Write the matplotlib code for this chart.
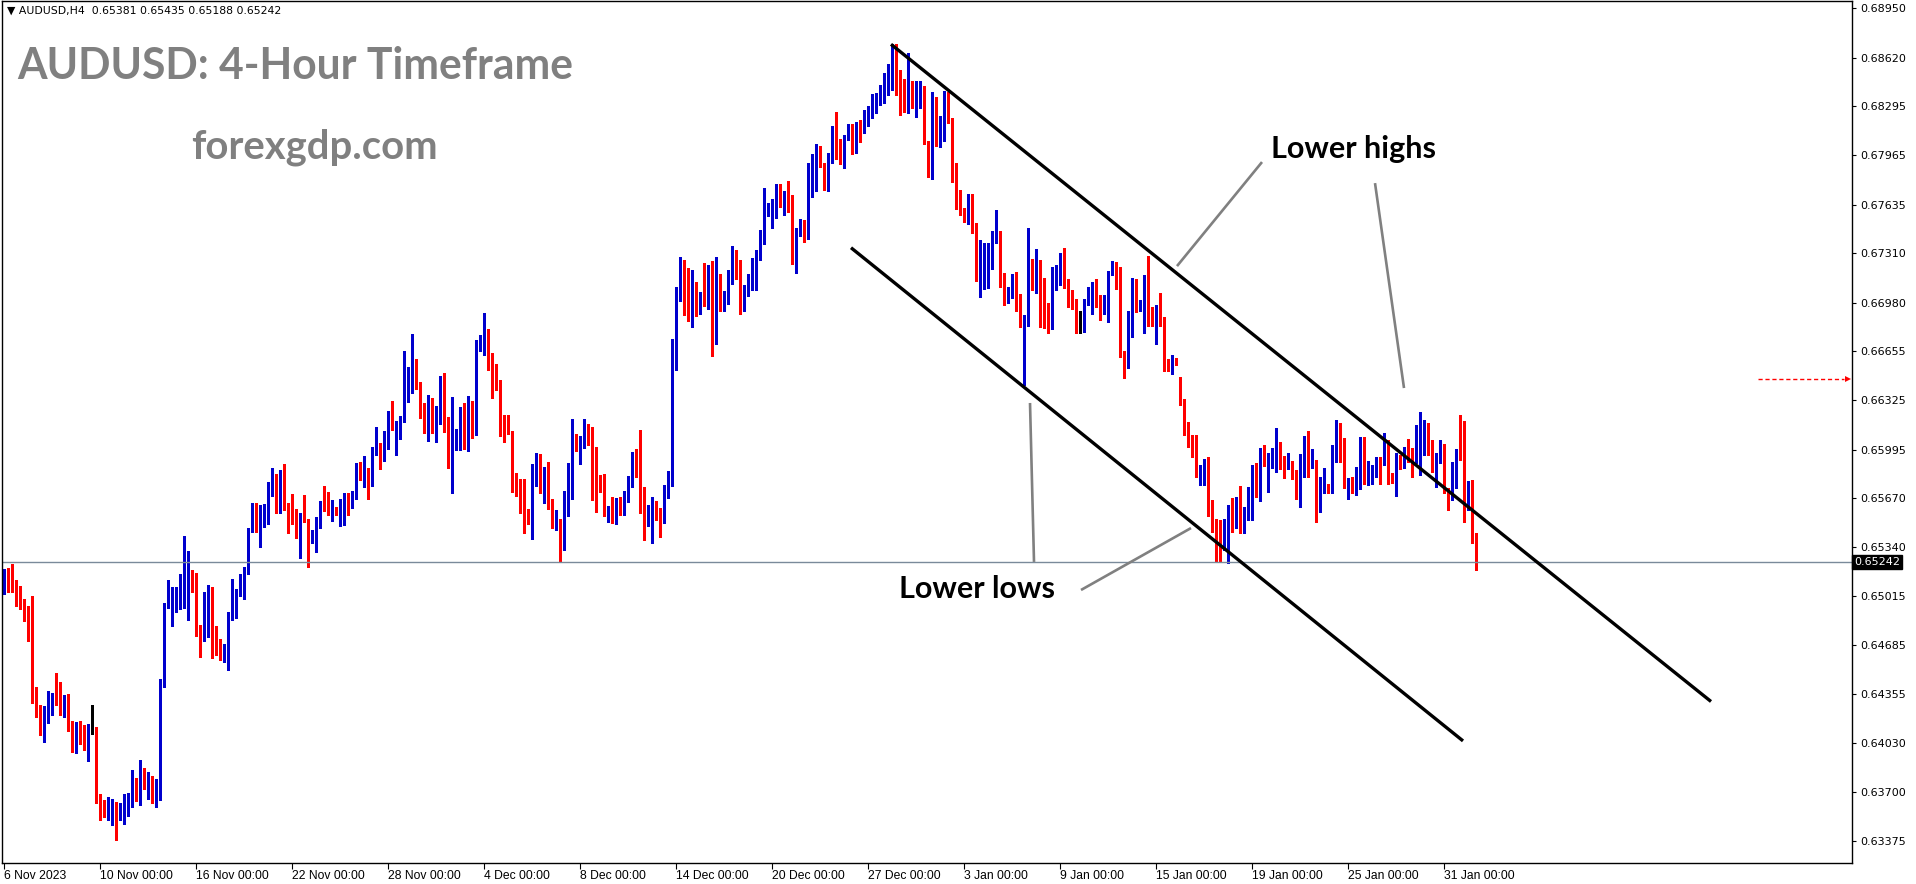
"""AUDUSD H4 candlestick chart with a descending channel (MT4 style screenshot)."""
import numpy as np
import matplotlib
matplotlib.use("Agg")
import matplotlib.pyplot as plt
from matplotlib import transforms

W, H, DPI = 1916, 884, 100
PT = 1e-5  # prices below are in points (1e-5)

# ---------- candles, 6 Nov 2023 00:00 .. 1 Feb 2024 08:00, one per 4 hours ----------
OPEN = [
    65043, 65155, 65141, 65067, 65007, 64967, 64873, 64753, 64377, 64217,
    64159, 64172, 64252, 64331, 64304, 64226, 64270, 64123, 64018, 64143,
    64092, 64058, 64123, 64123, 63654, 63627, 63576, 63583, 63634, 63567,
    63491, 63609, 63625, 63754, 63676, 63835, 63717, 63775, 63656, 63763,
    64413, 64942, 64822, 64913, 65014, 65061, 65083, 65188, 65061, 64813,
    64748, 64963, 65074, 64746, 64645, 64621, 64621, 64867, 64983, 65027,
    64996, 65204, 65456, 65630, 65483, 65483, 65546, 65684, 65697, 65581,
    65697, 65613, 65557, 65543, 65409, 65543, 65530, 65391, 65385, 65530,
    65644, 65624, 65577, 65606, 65539, 65626, 65691, 65626, 65702, 65901,
    65746, 65872, 65755, 65963, 66012, 65930, 66059, 66186, 66135, 66126,
    66209, 66474, 66466, 66575, 66448, 66267, 66148, 66213, 66155, 66202,
    66387, 66133, 65905, 66039, 66043, 66267, 66122, 66307, 66104, 66707,
    66638, 66765, 66577, 66524, 66461, 66211, 66193, 66119, 65840, 65767,
    65595, 65577, 65505, 65872, 65885, 65733, 65865, 65604, 65479, 65510,
    65345, 65713, 65834, 66086, 65988, 66048, 66133, 66066, 65871, 65758,
    65684, 65559, 65597, 65572, 65624, 65566, 65668, 65753, 65972, 65918,
    65597, 65487, 65545, 65644, 65570, 65545, 65746, 65760, 66600, 67050,
    67177, 67103, 67052, 67117, 66969, 66978, 66969, 67220, 66706, 67090,
    66952, 66992, 67126, 67298, 67264, 67025, 67063, 67115, 67173, 67307,
    67421, 67608, 67619, 67642, 67693, 67653, 67706, 67666, 67298, 67470,
    67519, 67485, 67780, 67800, 68021, 67914, 67749, 67923, 68148, 68048,
    68008, 68082, 68155, 67988, 68155, 68131, 68198, 68278, 68278, 68329,
    68336, 68452, 68445, 68707, 68470, 68303, 68262, 68463, 68278, 68412,
    68430, 68050, 67829, 68358, 68046, 68124, 68392, 68215, 67800, 67733,
    67613, 67561, 67646, 67492, 67144, 67200, 67233, 67300, 67394, 67432,
    67130, 67025, 67066, 67108, 67036, 66818, 66862, 67144, 67135, 67264,
    67001, 66974, 66811, 67121, 67103, 67291, 67090, 67043, 66985, 66867,
    66804, 66985, 67034, 67090, 66985, 66958, 66885, 67175, 67190, 67112,
    66655, 66554, 66777, 67124, 66956, 66992, 67050, 66871, 66704, 66952,
    66844, 66576, 66563, 66601, 66474, 66323, 66126, 66048, 65988, 65818,
    65818, 65925, 65604, 65523, 65461, 65394, 65483, 65590, 65568, 65639,
    65445, 65572, 65572, 65825, 65706, 65992, 65896, 65907, 65854, 66041,
    65885, 65869, 65907, 65845, 65680, 65876, 66081, 65876, 65925, 65590,
    65755, 65764, 65735, 66014, 66164, 66075, 65691, 65751, 65729, 65863,
    66064, 65769, 65840, 65863, 65925, 65907, 66048, 65813, 65713, 65921,
    65876, 66003, 65997, 65914, 66041, 66148, 66166, 66055, 65869, 65914,
    66023, 65729, 65662, 65825, 65956, 65952, 65595, 65635, 65381,
]
HIGH = [
    65195, 65204, 65230, 65121, 65083, 64996, 64949, 65014, 64406, 64284,
    64279, 64377, 64366, 64498, 64438, 64351, 64360, 64176, 64172, 64176,
    64150, 64156, 64284, 64136, 63687, 63647, 63670, 63654, 63634, 63627,
    63687, 63696, 63848, 63797, 63915, 63864, 63835, 63808, 63790, 64458,
    64969, 65121, 65074, 65074, 65161, 65416, 65315, 65188, 65168, 64820,
    65041, 65088, 65074, 64813, 64726, 64695, 64907, 65128, 65061, 65161,
    65208, 65470, 65635, 65635, 65624, 65630, 65778, 65872, 65831, 65858,
    65898, 65635, 65697, 65597, 65568, 65691, 65530, 65456, 65546, 65650,
    65751, 65711, 65655, 65613, 65664, 65702, 65702, 65717, 65907, 65912,
    65952, 65874, 66014, 66144, 66041, 66122, 66253, 66320, 66186, 66222,
    66655, 66548, 66767, 66602, 66448, 66305, 66361, 66341, 66285, 66488,
    66510, 66211, 66347, 66133, 66280, 66305, 66354, 66320, 66731, 66760,
    66912, 66803, 66644, 66570, 66461, 66224, 66224, 66119, 65840, 65798,
    65796, 65599, 65896, 65972, 65965, 65876, 65914, 65664, 65588, 65530,
    65720, 65905, 66198, 66099, 66086, 66198, 66168, 66146, 66012, 65825,
    65831, 65617, 65677, 65673, 65675, 65720, 65818, 65981, 65997, 66126,
    65746, 65621, 65677, 65650, 65606, 65758, 65851, 66735, 67083, 67284,
    67266, 67211, 67197, 67117, 67050, 67244, 67231, 67257, 67284, 67170,
    67054, 67195, 67358, 67331, 67264, 67095, 67170, 67278, 67331, 67465,
    67747, 67648, 67671, 67771, 67773, 67727, 67793, 67700, 67479, 67539,
    67532, 67914, 67974, 68041, 68028, 67918, 67985, 68162, 68256, 68077,
    68102, 68175, 68175, 68189, 68202, 68269, 68298, 68378, 68385, 68437,
    68519, 68579, 68709, 68709, 68537, 68475, 68651, 68463, 68463, 68463,
    68430, 68061, 68390, 68358, 68229, 68396, 68392, 68215, 67912, 67733,
    67613, 67704, 67704, 67510, 67398, 67380, 67380, 67461, 67597, 67456,
    67175, 67086, 67170, 67182, 67036, 66896, 67476, 67269, 67340, 67264,
    67144, 66974, 67215, 67231, 67311, 67342, 67139, 67063, 67001, 66923,
    67005, 67086, 67117, 67139, 67028, 67030, 67193, 67260, 67251, 67215,
    66655, 66923, 67144, 67137, 66996, 67164, 67293, 66952, 66961, 67043,
    66882, 66603, 66628, 66605, 66480, 66334, 66182, 66093, 66093, 65892,
    65932, 65943, 65657, 65528, 65523, 65528, 65621, 65673, 65679, 65751,
    65612, 65746, 65892, 65903, 66003, 66026, 65974, 66003, 66137, 66048,
    65952, 65974, 65916, 65858, 65965, 66088, 66122, 65997, 65925, 65809,
    65869, 65764, 66026, 66193, 66171, 66075, 65807, 65809, 65880, 66081,
    66081, 65921, 65892, 65947, 65947, 66104, 66059, 65840, 65970, 65959,
    66014, 66064, 66003, 66160, 66244, 66193, 66175, 66059, 65970, 66059,
    66032, 65735, 65914, 65997, 66227, 66189, 65787, 65791, 65435,
]
LOW = [
    65027, 65043, 65043, 64949, 64925, 64849, 64715, 64299, 64201, 64083,
    64038, 64165, 64219, 64284, 64217, 64206, 64112, 63971, 63964, 64022,
    63982, 63911, 64087, 63629, 63516, 63536, 63516, 63482, 63382, 63513,
    63484, 63540, 63603, 63641, 63614, 63723, 63656, 63627, 63598, 63650,
    64406, 64931, 64815, 64909, 64927, 64936, 64853, 65043, 64748, 64607,
    64715, 64737, 64601, 64621, 64587, 64574, 64520, 64853, 64869, 65014,
    64996, 65161, 65440, 65445, 65345, 65478, 65496, 65684, 65572, 65568,
    65590, 65438, 65496, 65403, 65271, 65510, 65211, 65367, 65307, 65472,
    65586, 65555, 65519, 65555, 65483, 65490, 65555, 65604, 65666, 65791,
    65742, 65664, 65751, 65958, 65867, 65921, 65997, 66126, 65961, 66064,
    66180, 66314, 66372, 66403, 66209, 66104, 66055, 66108, 66048, 66166,
    66115, 65874, 65706, 65994, 65994, 65997, 65988, 66070, 66095, 66658,
    66626, 66526, 66343, 66394, 66086, 66048, 66099, 65713, 65686, 65568,
    65438, 65496, 65398, 65751, 65704, 65639, 65599, 65472, 65454, 65251,
    65324, 65552, 65666, 65983, 65901, 66008, 66026, 65659, 65579, 65713,
    65552, 65512, 65503, 65499, 65557, 65559, 65644, 65744, 65813, 65568,
    65391, 65485, 65371, 65523, 65411, 65505, 65668, 65750, 66525, 66992,
    66896, 66858, 66818, 66889, 66902, 66958, 66936, 66623, 66702, 66925,
    66923, 66970, 67103, 67139, 66905, 66925, 67021, 67066, 67066, 67264,
    67371, 67559, 67481, 67548, 67622, 67568, 67584, 67240, 67175, 67427,
    67385, 67403, 67689, 67729, 67889, 67733, 67729, 67918, 67943, 67907,
    67881, 68068, 67974, 67983, 68055, 68117, 68162, 68216, 68247, 68300,
    68318, 68367, 68403, 68372, 68236, 68256, 68250, 68280, 68224, 68285,
    68044, 67820, 67807, 68028, 68023, 68061, 68182, 67789, 67606, 67563,
    67517, 67505, 67447, 67126, 67019, 67068, 67079, 67204, 67380, 67086,
    66965, 66978, 67012, 66925, 66818, 66427, 66820, 67063, 67045, 66818,
    66811, 66773, 66800, 67061, 67099, 67079, 66949, 66934, 66773, 66773,
    66782, 66965, 66905, 66952, 66862, 66900, 66847, 67166, 67068, 66614,
    66471, 66543, 66751, 66918, 66923, 66777, 66820, 66824, 66704, 66820,
    66523, 66521, 66498, 66563, 66294, 66093, 66014, 65947, 65813, 65758,
    65758, 65550, 65445, 65244, 65244, 65322, 65233, 65445, 65467, 65434,
    65438, 65523, 65523, 65680, 65653, 65885, 65713, 65869, 65845, 65863,
    65802, 65863, 65796, 65662, 65612, 65813, 65813, 65869, 65512, 65579,
    65702, 65702, 65702, 65912, 65912, 65735, 65662, 65702, 65691, 65733,
    65764, 65758, 65764, 65813, 65764, 65892, 65764, 65769, 65684, 65863,
    65869, 65914, 65813, 65903, 65825, 65959, 65959, 65847, 65746, 65903,
    65702, 65590, 65657, 65735, 65925, 65512, 65590, 65371, 65188,
]
CLOSE = [
    65155, 65137, 65061, 64996, 64963, 64882, 64753, 64373, 64210, 64152,
    64179, 64364, 64331, 64304, 64230, 64264, 64118, 64016, 64143, 64085,
    64058, 64123, 64123, 63663, 63620, 63576, 63589, 63627, 63562, 63603,
    63614, 63636, 63754, 63670, 63835, 63754, 63781, 63656, 63768, 64418,
    64947, 65074, 64913, 65014, 65067, 65088, 65188, 65083, 64808, 64748,
    64967, 65074, 64741, 64706, 64619, 64686, 64873, 64987, 65041, 65141,
    65201, 65461, 65630, 65485, 65490, 65568, 65691, 65702, 65581, 65697,
    65613, 65552, 65539, 65409, 65543, 65523, 65398, 65427, 65530, 65630,
    65617, 65581, 65601, 65568, 65637, 65691, 65619, 65706, 65901, 65798,
    65876, 65755, 65965, 66012, 65930, 66066, 66186, 66135, 66153, 66213,
    66472, 66486, 66575, 66443, 66262, 66148, 66213, 66171, 66204, 66394,
    66126, 65905, 66046, 66052, 66267, 66122, 66307, 66108, 66718, 66751,
    66765, 66570, 66524, 66450, 66202, 66198, 66119, 65834, 65769, 65595,
    65572, 65519, 65876, 65885, 65733, 65865, 65604, 65479, 65510, 65345,
    65713, 65838, 66086, 66014, 66055, 66133, 66066, 65867, 65753, 65751,
    65559, 65597, 65572, 65624, 65568, 65677, 65764, 65968, 65914, 65592,
    65492, 65597, 65644, 65575, 65545, 65751, 65764, 66617, 67050, 67177,
    67099, 67052, 67117, 66978, 66978, 66969, 67213, 66710, 67095, 67012,
    66996, 67130, 67298, 67264, 67025, 67070, 67117, 67177, 67318, 67432,
    67619, 67626, 67646, 67702, 67660, 67706, 67660, 67298, 67472, 67519,
    67488, 67785, 67807, 68026, 67901, 67749, 67927, 68148, 68041, 67968,
    68088, 68155, 67983, 68155, 68137, 68242, 68282, 68289, 68336, 68343,
    68459, 68470, 68707, 68466, 68298, 68265, 68463, 68291, 68423, 68430,
    68044, 67829, 68358, 68041, 68128, 68392, 68211, 67796, 67729, 67606,
    67561, 67646, 67488, 67144, 67204, 67311, 67304, 67398, 67432, 67126,
    67025, 67068, 67108, 67032, 66818, 66862, 67144, 67137, 67264, 66996,
    66974, 66811, 67124, 67197, 67284, 67086, 67039, 66985, 66867, 66867,
    66990, 67041, 67090, 66978, 66958, 66996, 67177, 67190, 67108, 66650,
    66554, 66876, 67124, 66956, 66996, 67043, 66865, 66847, 66952, 66844,
    66570, 66563, 66599, 66590, 66323, 66122, 66048, 65988, 65818, 65836,
    65925, 65601, 65523, 65456, 65389, 65523, 65590, 65568, 65639, 65445,
    65572, 65735, 65840, 65706, 65992, 65896, 65914, 65974, 66041, 65876,
    65869, 65907, 65840, 65691, 65930, 66077, 65876, 65925, 65586, 65809,
    65764, 65740, 66014, 66164, 66070, 65764, 65751, 65729, 65876, 66064,
    65773, 65847, 65876, 65925, 65907, 66048, 65802, 65791, 65921, 65880,
    66003, 65988, 65914, 66104, 66153, 66160, 66055, 65869, 65925, 66023,
    65713, 65662, 65829, 65963, 65943, 65606, 65635, 65378, 65242,
]

# x axis: bar index of each date label
DATE_POS = [0, 24, 48, 72, 96, 120, 144, 168, 192, 216, 240, 264, 288, 312, 336, 360]
DATE_LABELS = ["6 Nov 2023", "10 Nov 00:00", "16 Nov 00:00", "22 Nov 00:00", "28 Nov 00:00",
               "4 Dec 00:00", "8 Dec 00:00", "14 Dec 00:00", "20 Dec 00:00", "27 Dec 00:00",
               "3 Jan 00:00", "9 Jan 00:00", "15 Jan 00:00", "19 Jan 00:00", "25 Jan 00:00",
               "31 Jan 00:00"]
PRICE_TICKS = [0.68950, 0.68620, 0.68295, 0.67965, 0.67635, 0.67310, 0.66980, 0.66655,
               0.66325, 0.65995, 0.65670, 0.65340, 0.65015, 0.64685, 0.64355, 0.64030,
               0.63700, 0.63375]
LAST_PRICE = 0.65242
ALERT_PRICE = 0.66465

# hand-drawn analysis objects, in (bar index, price)
CHANNEL_UPPER = [(221.75, 0.68710), (426.75, 0.64307)]
CHANNEL_LOWER = [(211.75, 0.67347), (364.75, 0.64043)]
POINTERS = [
    [(314.5, 0.67921), (293.25, 0.67224)],
    [(342.75, 0.67780), (350.0, 0.66407)],
    [(269.25, 0.65054), (296.75, 0.65469)],
    [(256.5, 0.66307), (257.5, 0.65242)],
]
LABEL_HIGHS = (316.75, 0.67948)
LABEL_LOWS = (223.75, 0.65002)


def main():
    o = np.array(OPEN) * PT
    hi = np.array(HIGH) * PT
    lo = np.array(LOW) * PT
    c = np.array(CLOSE) * PT
    assert len(o) == len(hi) == len(lo) == len(c), (len(o), len(hi), len(lo), len(c))
    x = np.arange(len(c))

    fig = plt.figure(figsize=(W / DPI, H / DPI), dpi=DPI)
    ax = fig.add_axes([2.3 / W, 1 - 863 / H, (1852 - 2.3) / W, 862 / H])

    col = np.where(c > o, "#0000cd", np.where(c < o, "#ff0000", "#000000"))
    ax.vlines(x, lo, hi, colors=col, lw=0.9, antialiased=False)
    bottom = np.minimum(o, c)
    height = np.maximum(np.abs(c - o), 0.00006)
    ax.bar(x, height, bottom=bottom, width=0.66, color=col, linewidth=0, antialiased=False)

    ax.set_xlim(-0.43, 462)
    ax.set_ylim(0.63225, 0.69000)

    # last price line + tag
    ax.axhline(LAST_PRICE, color="#7a8a9a", lw=1.0)
    blend = transforms.blended_transform_factory(ax.transAxes, ax.transData)
    ax.text(1.0012, LAST_PRICE, f"{LAST_PRICE:.5f}", transform=blend, ha="left", va="center",
            fontsize=8, color="white", family="DejaVu Sans",
            bbox=dict(facecolor="black", edgecolor="black", pad=1.6), clip_on=False)

    # price alert arrow
    ax.plot([438.5, 460.0], [ALERT_PRICE] * 2, color="red", lw=1.0, ls=(0, (3, 2)))
    ax.plot([461.0], [ALERT_PRICE], marker=">", color="red", ms=5, mew=0, clip_on=False)

    # channel + annotation pointers
    for seg in (CHANNEL_UPPER, CHANNEL_LOWER):
        (x0, y0), (x1, y1) = seg
        ax.plot([x0, x1], [y0, y1], color="black", lw=2.4, solid_capstyle="butt")
    for (x0, y0), (x1, y1) in POINTERS:
        ax.plot([x0, x1], [y0, y1], color="#808080", lw=1.9, solid_capstyle="butt")
    ax.text(*LABEL_HIGHS, "Lower highs", fontsize=22, fontweight="bold", family="Lato",
            color="black", va="baseline", ha="left")
    ax.text(*LABEL_LOWS, "Lower lows", fontsize=22, fontweight="bold", family="Lato",
            color="black", va="baseline", ha="left")

    # axes styling (MT4 look)
    for s in ax.spines.values():
        s.set_color("black")
        s.set_linewidth(1.0)
    ax.yaxis.tick_right()
    ax.set_yticks(PRICE_TICKS)
    ax.set_yticklabels([f"{p:.5f}" for p in PRICE_TICKS], family="DejaVu Sans", fontsize=8)
    ax.set_xticks(DATE_POS)
    ax.set_xticklabels(DATE_LABELS, ha="left", family="Liberation Sans", fontsize=8.7)
    ax.tick_params(axis="y", direction="out", length=3, width=0.8, pad=3, colors="black")
    ax.tick_params(axis="x", direction="out", length=4, width=0.8, pad=1, colors="black")

    # header + watermark texts
    fig.text(7 / W, 1 - 11 / H, "\u25bc AUDUSD,H4  0.65381 0.65435 0.65188 0.65242",
             fontsize=7.8, family="DejaVu Sans", va="center", ha="left")
    fig.text(17 / W, 1 - 79 / H, "AUDUSD: 4-Hour Timeframe", fontsize=30.7, fontweight="bold",
             family="Lato", color="#808080", va="baseline", ha="left")
    fig.text(191 / W, 1 - 159 / H, "forexgdp.com", fontsize=28.8, fontweight="bold",
             family="Lato", color="#808080", va="baseline", ha="left")

    fig.savefig("out.png", dpi=DPI)
    plt.close(fig)


if __name__ == "__main__":
    main()
